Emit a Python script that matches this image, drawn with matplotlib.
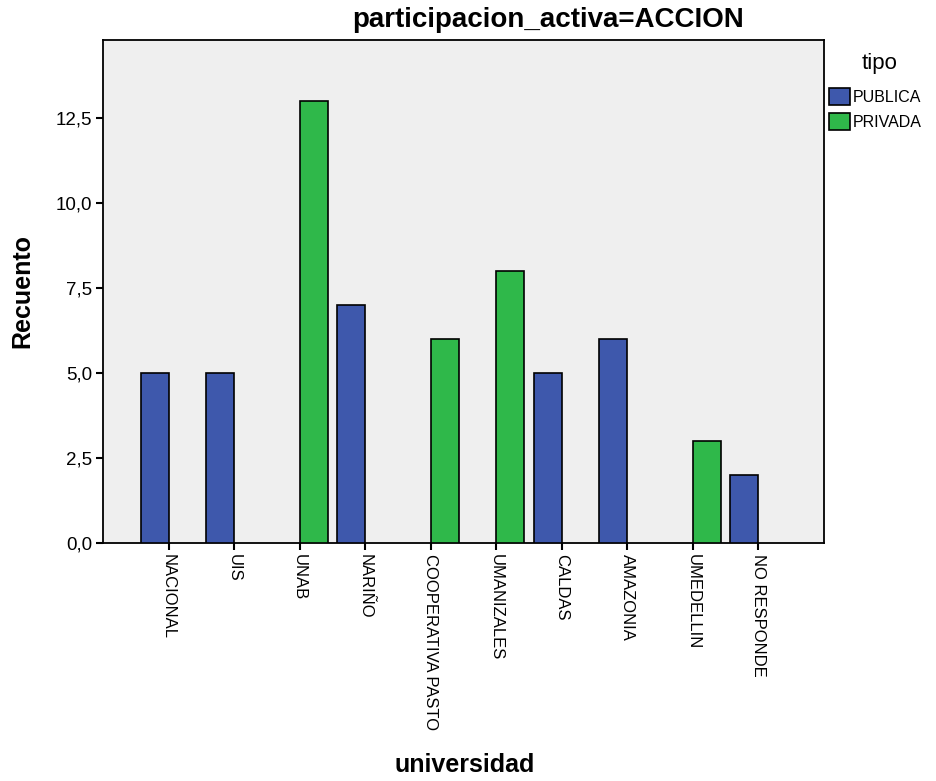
import numpy as np
import matplotlib
matplotlib.use("Agg")
import matplotlib.pyplot as plt
from matplotlib.patches import Patch

plt.rcParams['font.family'] = ['Liberation Sans', 'DejaVu Sans']

universidades = ["NACIONAL", "UIS", "UNAB", "NARIÑO", "COOPERATIVA PASTO",
                 "UMANIZALES", "CALDAS", "AMAZONIA", "UMEDELLIN", "NO RESPONDE"]
publica = [5, 5, 0, 7, 0, 0, 5, 6, 0, 2]
privada = [0, 0, 13, 0, 6, 8, 0, 0, 3, 0]
y_ticks = [0.0, 2.5, 5.0, 7.5, 10.0, 12.5]

color_publica = "#3E58AC"
color_privada = "#2FB84A"

fig = plt.figure(figsize=(9.37, 7.81), dpi=100)
W, H = 937, 781
ax = fig.add_axes([103 / W, 1 - 543 / H, (824 - 103) / W, (543 - 40) / H])
ax.set_facecolor("#EFEFEF")

x = np.arange(len(universidades))
w = 0.427
pub = np.array(publica, dtype=float)
pri = np.array(privada, dtype=float)
mp = pub > 0
mr = pri > 0
# clustered bars: PUBLICA left of the category tick, PRIVADA right of it
ax.bar(x[mp] - w, pub[mp], width=w, align="edge", color=color_publica,
       edgecolor="black", linewidth=1.2, zorder=3)
ax.bar(x[mr], pri[mr], width=w, align="edge", color=color_privada,
       edgecolor="black", linewidth=1.2, zorder=3)

ax.set_xlim(-1, len(universidades))
ax.set_ylim(0, 14.8)
ax.set_xticks(x)
ax.set_xticklabels(universidades, rotation=270, ha="center", va="top", fontsize=12)
ax.set_yticks(y_ticks)
ax.set_yticklabels([f"{v:.1f}".replace(".", ",") for v in y_ticks], fontsize=13.5)
ax.tick_params(axis="both", length=5, width=1.5, color="black", pad=3)
for s in ax.spines.values():
    s.set_linewidth(1.3)
    s.set_color("black")

fig.text(548 / W, 1 - 20 / H, "participacion_activa=ACCION", ha="center", va="center",
         fontsize=20, fontweight="bold")
fig.text(22 / W, 1 - 291 / H, "Recuento", rotation=90, ha="center", va="center",
         fontsize=18, fontweight="bold")
fig.text(465 / W, 1 - 765 / H, "universidad", ha="center", va="center",
         fontsize=18, fontweight="bold")

fig.text(880 / W, 1 - 63 / H, "tipo", ha="center", va="center", fontsize=16)
handles = [Patch(facecolor=color_publica, edgecolor="black", linewidth=1.2, label="PUBLICA"),
           Patch(facecolor=color_privada, edgecolor="black", linewidth=1.2, label="PRIVADA")]
fig.legend(handles=handles, loc="upper left", bbox_to_anchor=(826 / W, 1 - 85 / H),
           frameon=False, fontsize=11.5, handlelength=1.3, handleheight=1.25,
           handletextpad=0.2, labelspacing=0.5, borderaxespad=0, borderpad=0.2)

fig.savefig("out.png", dpi=100)
